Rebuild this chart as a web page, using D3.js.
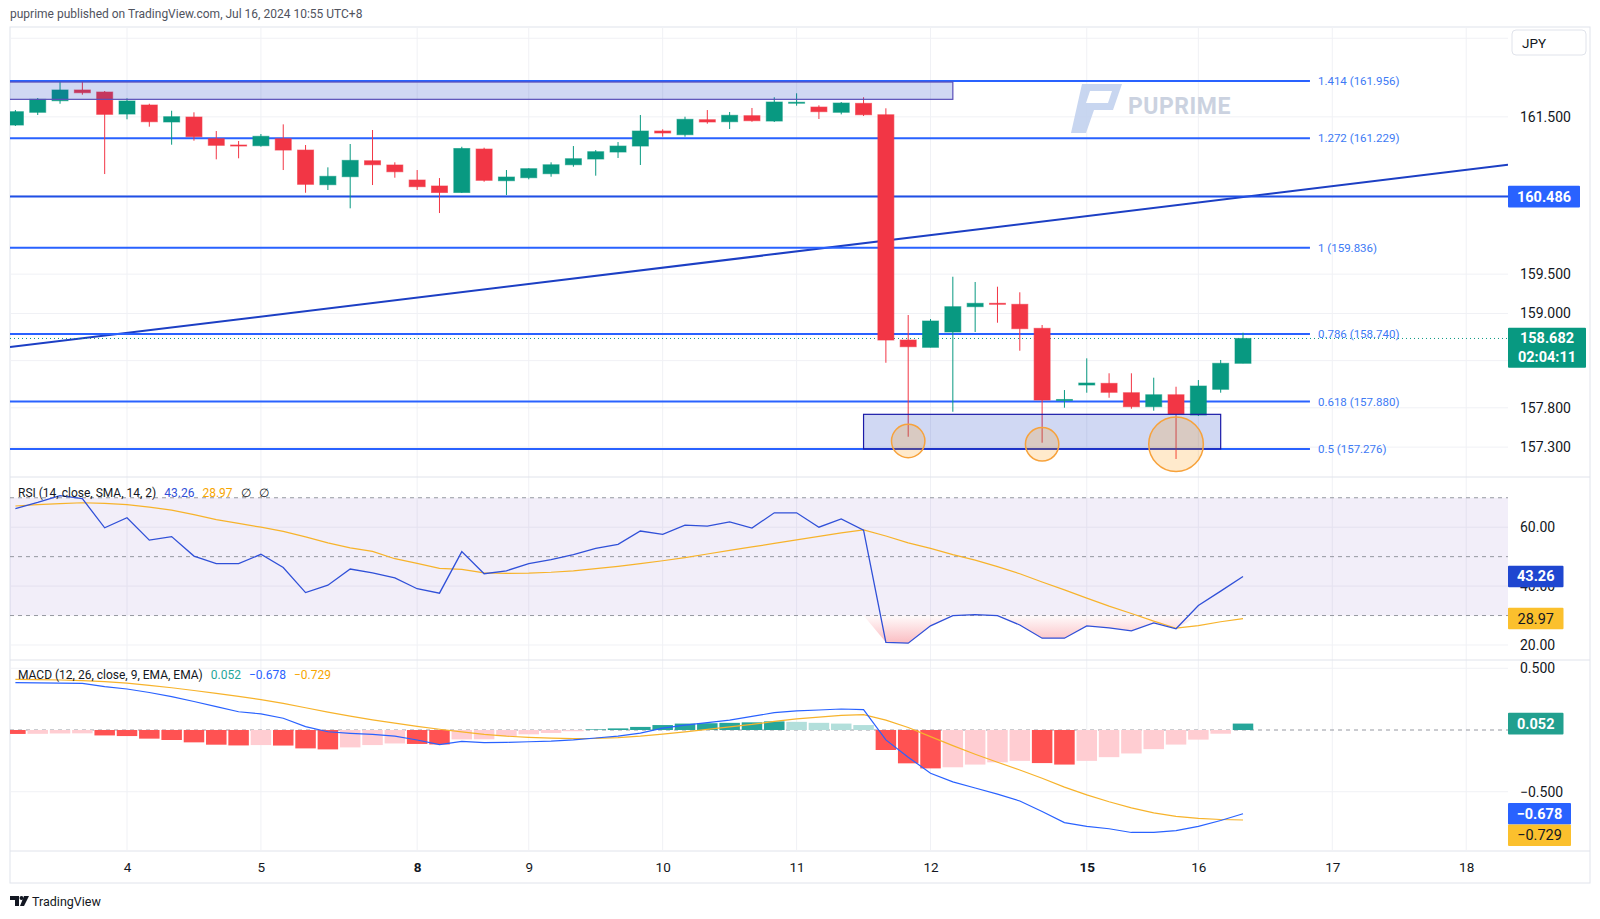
<!DOCTYPE html>
<html><head><meta charset="utf-8">
<script src="https://cdn.jsdelivr.net/npm/d3@7"></script>
<style>body{margin:0;background:#fff;} svg{display:block;font-family:Roboto,"Noto Sans",sans-serif;}</style>
</head><body><svg id="c" width="1600" height="919"></svg>
<script>
// ---------- DATA ----------
const opens = [161.396,161.558,161.705,161.842,161.816,161.536,161.651,161.435,161.498,161.222,161.142,161.133,161.222,161.078,160.637,160.739,160.942,160.888,160.697,160.621,160.538,161.091,160.688,160.726,160.777,160.891,160.964,161.053,161.129,161.320,161.273,161.464,161.438,161.515,161.447,161.683,161.625,161.558,161.672,161.527,158.662,158.569,158.764,159.086,159.129,159.116,158.811,157.893,158.090,158.111,157.992,157.814,157.966,157.708,158.035,158.366];
const highs = [161.587,161.740,161.947,161.947,161.829,161.736,161.667,161.578,161.558,161.320,161.193,161.282,161.405,161.142,160.858,161.155,161.333,160.922,160.824,160.722,161.120,161.108,160.824,160.846,160.922,161.129,161.078,161.180,161.524,161.342,161.502,161.587,161.562,161.613,161.749,161.800,161.647,161.689,161.749,161.609,158.980,158.929,159.467,159.400,159.340,159.269,158.853,158.026,158.429,158.239,158.239,158.183,158.068,158.153,158.408,158.755];
const lows = [161.384,161.524,161.667,161.782,160.773,161.469,161.375,161.146,161.197,160.960,160.973,161.121,160.824,160.535,160.570,160.337,160.633,160.726,160.570,160.277,160.532,160.675,160.506,160.706,160.739,160.866,160.752,160.977,160.888,161.248,161.248,161.413,161.346,161.438,161.435,161.642,161.473,161.532,161.511,158.373,157.432,158.569,157.750,158.764,158.882,158.526,157.356,157.801,157.992,157.928,157.788,157.763,157.149,157.696,157.992,158.366];
const closes = [161.566,161.723,161.842,161.807,161.532,161.702,161.438,161.502,161.248,161.138,161.135,161.253,161.078,160.642,160.744,160.947,160.891,160.802,160.612,160.538,161.098,160.693,160.735,160.841,160.891,160.968,161.057,161.129,161.320,161.295,161.469,161.435,161.520,161.451,161.689,161.686,161.566,161.676,161.527,158.662,158.577,158.904,159.086,159.129,159.120,158.806,157.899,157.906,158.115,157.997,157.814,157.966,157.721,158.077,158.366,158.682];

const rsi = [66.3,68.4,70.7,69.7,59.8,63.2,55.6,56.8,50.2,47.6,47.6,50.8,46.3,37.8,40.3,45.8,44.5,42.8,39.1,37.6,51.7,44.2,45.2,47.6,49.0,50.7,52.8,54.2,58.7,57.6,60.7,60.4,61.8,59.7,64.9,64.9,60.0,62.8,59.0,20.9,20.6,26.5,30.0,30.3,30.0,26.8,22.3,22.3,26.5,25.8,24.8,27.5,25.5,33.4,38.3,43.26];
const rsiMA = [67.2,67.7,68.0,68.3,68.1,67.7,66.8,65.8,64.3,62.6,61.3,60.0,58.6,56.7,54.7,53.0,51.8,49.3,47.7,46.0,45.7,44.5,44.3,44.4,44.7,45.2,45.9,46.7,47.6,48.6,49.7,50.9,52.1,53.3,54.5,55.7,56.9,58.1,59.1,57.0,54.7,52.8,50.7,48.8,46.6,44.2,41.4,38.7,35.9,33.2,30.7,28.1,25.7,26.6,27.9,28.97];

const macd = [0.383,0.382,0.380,0.378,0.351,0.332,0.304,0.270,0.231,0.189,0.148,0.130,0.095,0.027,-0.014,-0.027,-0.036,-0.049,-0.081,-0.119,-0.092,-0.103,-0.100,-0.095,-0.090,-0.080,-0.065,-0.050,-0.025,0.015,0.040,0.060,0.080,0.110,0.140,0.155,0.162,0.170,0.165,-0.080,-0.220,-0.350,-0.420,-0.470,-0.520,-0.575,-0.660,-0.750,-0.780,-0.800,-0.830,-0.830,-0.815,-0.780,-0.733,-0.678];
const signal = [0.410,0.408,0.405,0.400,0.392,0.380,0.362,0.342,0.320,0.297,0.272,0.246,0.216,0.180,0.145,0.112,0.082,0.055,0.030,0.006,-0.015,-0.035,-0.050,-0.060,-0.066,-0.070,-0.068,-0.062,-0.050,-0.033,-0.015,0.005,0.025,0.045,0.070,0.090,0.105,0.118,0.125,0.080,0.020,-0.054,-0.127,-0.196,-0.261,-0.324,-0.391,-0.463,-0.526,-0.581,-0.631,-0.671,-0.700,-0.716,-0.725,-0.729];
const hist = [-0.032,-0.031,-0.028,-0.027,-0.044,-0.049,-0.070,-0.081,-0.100,-0.119,-0.125,-0.122,-0.126,-0.149,-0.157,-0.141,-0.122,-0.109,-0.113,-0.117,-0.076,-0.075,-0.050,-0.035,-0.024,-0.010,0.005,0.013,0.025,0.040,0.052,0.055,0.058,0.062,0.070,0.066,0.058,0.052,0.040,-0.162,-0.270,-0.311,-0.302,-0.280,-0.262,-0.250,-0.268,-0.280,-0.250,-0.220,-0.190,-0.155,-0.118,-0.078,-0.030,0.052];

const dayLabels = ["4","5","8","9","10","11","12","15","16","17","18"];
const dayIndex = [5,11,18,23,29,35,41,48,53,59,65];
const boldDays = ["8","15"];
const priceGrid = [162.5,161.5,160.5,159.5,159.0,158.4,157.8,157.3];
const priceTicks = [161.5,159.5,159.0,157.8,157.3];
const rsiTicks = [60,40,20];
const rsiLevels = [70,50,30];
const macdGrid = [0.5,-0.5];
const macdTicks = [0.5,-0.5];
const fibLevels = [1.414,1.272,1,0.786,0.618,0.5];
const fibPrices = [161.956,161.229,159.836,158.740,157.880,157.276];
const hLinePrice = 160.486;
const trendIdx = [0,55];
const trendPrice = [158.58,160.48];
const zoneTop = {i0:-1, i1:42, p0:161.723, p1:161.943};
const zoneBottom = {i0:38, i1:54, p0:157.276, p1:157.717};
const circleIdx = [40,46,52];
const circlePrice = [157.378,157.336,157.336];
const lastPrice = 158.682, countdown = "02:04:11";
const rsiLast = 43.26, rsiMALast = 28.97;
const histLast = 0.052, macdLast = -0.678, signalLast = -0.729;

// ---------- LAYOUT ----------
const svg = d3.select("#c");
const L = 10, R = 1508, AX = 1590;
const mainTop = 27, mainBot = 477, rsiTop = 477, rsiBot = 660, macdTop = 660, macdBot = 850, frameBot = 883;
const GREEN = "#089981", RED = "#f23645";

const x = d3.scaleLinear().domain([0,55]).range([15.4, 15.4 + 55*22.32]);
const yP = d3.scaleLinear().domain([156.92,162.643]).range([mainBot, mainTop]);
const yR = d3.scaleLinear().domain([14.9,77.05]).range([rsiBot, rsiTop]);
const yM = d3.scaleLinear().domain([-0.972,0.567]).range([macdBot, macdTop]);

const defs = svg.append("defs");
function clip(id, y0, y1){ defs.append("clipPath").attr("id",id).append("rect").attr("x",L).attr("y",y0).attr("width",R-L).attr("height",y1-y0); }
clip("cm", mainTop, mainBot); clip("cr", rsiTop, rsiBot); clip("cmd", macdTop, macdBot);

// header
svg.append("text").attr("x",10).attr("y",18).attr("font-size",12).attr("fill","#50535e")
  .text("puprime published on TradingView.com, Jul 16, 2024 10:55 UTC+8");

// frame
svg.append("rect").attr("x",L).attr("y",mainTop).attr("width",AX-L).attr("height",frameBot-mainTop)
  .attr("fill","#fff").attr("stroke","#e0e3eb");

// vertical grid
svg.append("g").selectAll("line").data(dayIndex).join("line")
  .attr("x1",d=>x(d)).attr("x2",d=>x(d)).attr("y1",mainTop).attr("y2",macdBot)
  .attr("stroke","#f0f1f5");
// horizontal grids
svg.append("g").attr("clip-path","url(#cm)").selectAll("line").data(priceGrid).join("line")
  .attr("x1",L).attr("x2",R).attr("y1",d=>yP(d)).attr("y2",d=>yP(d)).attr("stroke","#f0f1f5");
svg.append("g").selectAll("line").data(rsiTicks).join("line")
  .attr("x1",L).attr("x2",R).attr("y1",d=>yR(d)).attr("y2",d=>yR(d)).attr("stroke","#f0f1f5");
svg.append("g").selectAll("line").data(macdGrid).join("line")
  .attr("x1",L).attr("x2",R).attr("y1",d=>yM(d)).attr("y2",d=>yM(d)).attr("stroke","#f0f1f5");

// pane separators
[rsiTop, macdTop, macdBot+1].forEach(y=>svg.append("line").attr("x1",L).attr("x2",AX).attr("y1",y).attr("y2",y).attr("stroke","#e0e3eb"));

// watermark
const wm = svg.append("g").attr("opacity",0.9);
wm.append("path").attr("d","M1082,84 L1122,84 L1113,110 L1094,110 L1086,133 L1071,133 Z").attr("fill","#c3d2ef");
wm.append("path").attr("d","M1090,91 L1112,91 L1108,103 L1086,103 Z").attr("fill","#fff");
wm.append("text").attr("x",1128).attr("y",114).attr("font-size",23).attr("font-weight",700)
  .attr("fill","#c6cedd").attr("letter-spacing","0.5").text("PUPRIME");

// ---------- MAIN PANE ----------
const gm = svg.append("g").attr("clip-path","url(#cm)");
const idx = d3.range(opens.length);

// trendline (extended to the pane edges)
const slope = (trendPrice[1]-trendPrice[0])/(trendIdx[1]-trendIdx[0]);
const tiL = x.invert(L), tiR = x.invert(R);
gm.append("line")
  .attr("x1",x(tiL)).attr("y1",yP(trendPrice[0]+slope*(tiL-trendIdx[0])))
  .attr("x2",x(tiR)).attr("y2",yP(trendPrice[0]+slope*(tiR-trendIdx[0])))
  .attr("stroke","#1c3fc4").attr("stroke-width",2);

// horizontal line
gm.append("line").attr("x1",L).attr("x2",R).attr("y1",yP(hLinePrice)).attr("y2",yP(hLinePrice))
  .attr("stroke","#1f4fe6").attr("stroke-width",2);

// fib lines
const fibEnd = x(58);
gm.selectAll(".fib").data(fibPrices).join("line").attr("class","fib")
  .attr("x1",L).attr("x2",fibEnd).attr("y1",d=>yP(d)).attr("y2",d=>yP(d))
  .attr("stroke","#2962ff").attr("stroke-width",2);
gm.selectAll(".fibt").data(fibPrices).join("text").attr("class","fibt")
  .attr("x",fibEnd+8).attr("y",d=>yP(d)+4).attr("font-size",11.5).attr("fill","#3d7af5")
  .text((d,i)=>`${fibLevels[i]} (${d.toFixed(3)})`);

// current price dotted line
gm.append("line").attr("x1",L).attr("x2",R).attr("y1",yP(lastPrice)).attr("y2",yP(lastPrice))
  .attr("stroke",GREEN).attr("stroke-dasharray","1,3").attr("stroke-width",1);

// candles
const bw = 16;
const cg = gm.append("g");
idx.forEach(i=>{
  const up = closes[i] >= opens[i];
  const col = up ? GREEN : RED;
  cg.append("line").attr("x1",x(i)).attr("x2",x(i)).attr("y1",yP(highs[i])).attr("y2",yP(lows[i]))
    .attr("stroke",col).attr("stroke-width",1);
  const top = yP(Math.max(opens[i],closes[i])), bot = yP(Math.min(opens[i],closes[i]));
  cg.append("rect").attr("x",x(i)-bw/2).attr("y",top).attr("width",bw).attr("height",Math.max(1,bot-top))
    .attr("fill",col).attr("stroke",col).attr("stroke-width",1).attr("stroke-opacity",0.6);
});

// zones
function zone(z, stroke){
  gm.append("rect").attr("x",x(z.i0)).attr("y",yP(z.p1)).attr("width",x(z.i1)-x(z.i0)).attr("height",yP(z.p0)-yP(z.p1))
    .attr("fill","rgba(22,62,195,0.2)").attr("stroke",stroke).attr("stroke-width",1.2);
}
zone(zoneTop, "#5a4fb8");
zone(zoneBottom, "#1a1aa8");

// circles
const radii = [16.7,16.7,27.3];
gm.selectAll(".circ").data(circleIdx).join("circle").attr("class","circ")
  .attr("cx",d=>x(d)).attr("cy",(d,i)=>yP(circlePrice[i])).attr("r",(d,i)=>radii[i])
  .attr("fill","rgba(255,152,0,0.2)").attr("stroke","#f7a23b").attr("stroke-width",1.5);

// ---------- RSI PANE ----------
const gr = svg.append("g").attr("clip-path","url(#cr)");
gr.append("rect").attr("x",L).attr("width",R-L).attr("y",yR(rsiLevels[0])).attr("height",yR(rsiLevels[2])-yR(rsiLevels[0]))
  .attr("fill","rgba(126,87,194,0.1)");
gr.selectAll(".lvl").data(rsiLevels).join("line").attr("class","lvl")
  .attr("x1",L).attr("x2",R).attr("y1",d=>yR(d)).attr("y2",d=>yR(d))
  .attr("stroke","#9598a1").attr("stroke-dasharray","4,4");
const grad = defs.append("linearGradient").attr("id","os").attr("gradientUnits","userSpaceOnUse")
  .attr("x1",0).attr("x2",0).attr("y1",yR(30)).attr("y2",yR(20));
grad.append("stop").attr("offset",0).attr("stop-color","#f23645").attr("stop-opacity",0.02);
grad.append("stop").attr("offset",1).attr("stop-color","#f23645").attr("stop-opacity",0.35);
gr.append("path").datum(idx).attr("fill","url(#os)")
  .attr("d",d3.area().x(i=>x(i)).y0(yR(30)).y1(i=>yR(Math.min(rsi[i],30))));
gr.append("path").datum(idx).attr("fill","none").attr("stroke","#f7b32b").attr("stroke-width",1.2)
  .attr("d",d3.line().x(i=>x(i)).y(i=>yR(rsiMA[i])));
gr.append("path").datum(idx).attr("fill","none").attr("stroke","#3050d8").attr("stroke-width",1.3)
  .attr("d",d3.line().x(i=>x(i)).y(i=>yR(rsi[i])));

// RSI legend
const rl = svg.append("text").attr("x",18).attr("y",497).attr("font-size",12);
rl.append("tspan").attr("fill","#131722").text("RSI (14, close, SMA, 14, 2)");
rl.append("tspan").attr("dx",8).attr("fill","#3050d8").text(rsiLast.toFixed(2));
rl.append("tspan").attr("dx",8).attr("fill","#f7a600").text(rsiMALast.toFixed(2));
rl.append("tspan").attr("dx",8).attr("fill","#131722").text("∅");
rl.append("tspan").attr("dx",8).attr("fill","#131722").text("∅");

// ---------- MACD PANE ----------
const gd = svg.append("g").attr("clip-path","url(#cmd)");
gd.append("line").attr("x1",L).attr("x2",R).attr("y1",yM(0)).attr("y2",yM(0))
  .attr("stroke","#9598a1").attr("stroke-dasharray","4,4");
const hw = 20.5;
gd.selectAll(".hb").data(idx).join("rect").attr("class","hb")
  .attr("x",i=>x(i)-hw/2).attr("width",hw)
  .attr("y",i=>Math.min(yM(0),yM(hist[i]))).attr("height",i=>Math.abs(yM(hist[i])-yM(0)))
  .attr("fill",i=>{
    const v = hist[i], p = i>0 ? hist[i-1] : v;
    if (v >= 0) return (i===0 || v > p) ? "#26a69a" : "#b2dfdb";
    return (i===0 || v <= p) ? "#ff5252" : "#ffcdd2";
  });
gd.append("path").datum(idx).attr("fill","none").attr("stroke","#f7b32b").attr("stroke-width",1.2)
  .attr("d",d3.line().x(i=>x(i)).y(i=>yM(signal[i])));
gd.append("path").datum(idx).attr("fill","none").attr("stroke","#2962ff").attr("stroke-width",1.2)
  .attr("d",d3.line().x(i=>x(i)).y(i=>yM(macd[i])));

const ml = svg.append("text").attr("x",18).attr("y",679).attr("font-size",12);
ml.append("tspan").attr("fill","#131722").text("MACD (12, 26, close, 9, EMA, EMA)");
ml.append("tspan").attr("dx",8).attr("fill","#26a69a").text(d3.format(".3f")(histLast));
ml.append("tspan").attr("dx",8).attr("fill","#2962ff").text(d3.format(".3f")(macdLast));
ml.append("tspan").attr("dx",8).attr("fill","#f7a600").text(d3.format(".3f")(signalLast));

// ---------- AXES ----------
function styleAxis(g){ g.select(".domain").remove(); g.selectAll("text").attr("fill","#131722").attr("font-size",14).attr("font-family","Roboto,'Noto Sans',sans-serif"); }
svg.append("g").attr("transform",`translate(${R},0)`)
  .call(d3.axisRight(yP).tickValues(priceTicks).tickFormat(d3.format(".3f")).tickSize(0).tickPadding(12)).call(styleAxis);
const ra = svg.append("g").attr("transform",`translate(${R},0)`)
  .call(d3.axisRight(yR).tickValues(rsiTicks).tickFormat(d3.format(".2f")).tickSize(0).tickPadding(12)).call(styleAxis);
svg.append("g").attr("transform",`translate(${R},0)`)
  .call(d3.axisRight(yM).tickValues(macdTicks).tickFormat(d3.format(".3f")).tickSize(0).tickPadding(12)).call(styleAxis);
const xa = svg.append("g").attr("transform",`translate(0,${macdBot+10})`)
  .call(d3.axisBottom(x).tickValues(dayIndex).tickFormat((d,i)=>dayLabels[i]).tickSize(0).tickPadding(2)).call(styleAxis);
xa.selectAll("text").attr("font-size",13.5).attr("font-weight",(d,i)=>boldDays.includes(dayLabels[i])?700:400);

// value boxes
function box(yc, lines, fill, tcol, w, bold){
  const h = 21.6 * lines.length - (lines.length>1?3:0);
  const g = svg.append("g");
  g.append("rect").attr("x",R).attr("y",yc-10.8).attr("width",w).attr("height",h).attr("fill",fill).attr("rx",1);
  lines.forEach((t,k)=>g.append("text").attr("x",R+w/2).attr("y",yc+5+k*19).attr("text-anchor","middle")
    .attr("font-size",14.5).attr("font-weight",bold?700:400).attr("fill",tcol).text(t));
  return yc-10.8+h;
}
box(yP(hLinePrice), [hLinePrice.toFixed(3)], "#2962ff", "#fff", 72, true);
box(yP(lastPrice), [lastPrice.toFixed(3), countdown], GREEN, "#fff", 78, true);
box(yR(rsiLast), [rsiLast.toFixed(2)], "#1f46d0", "#fff", 55.5, true);
box(yR(rsiMALast), [rsiMALast.toFixed(2)], "#fbc02d", "#131722", 55.5, false);
box(yM(histLast), [d3.format(".3f")(histLast)], "#22a08f", "#fff", 55.5, true);
const b2 = box(yM(macdLast), [d3.format(".3f")(macdLast)], "#2962ff", "#fff", 63, true);
box(Math.max(yM(signalLast), b2+10.8), [d3.format(".3f")(signalLast)], "#fbc02d", "#131722", 63, false);

// JPY box
svg.append("rect").attr("x",1512).attr("y",30).attr("width",74).attr("height",25).attr("rx",4)
  .attr("fill","#fff").attr("stroke","#e0e3eb");
svg.append("text").attr("x",1522).attr("y",47.5).attr("font-size",13.5).attr("fill","#131722").text("JPY");

// footer
const ft = svg.append("g");
ft.append("path").attr("d","M10,896 h9 v10 h-4 v-6 h-5 z").attr("fill","#131722");
ft.append("circle").attr("cx",21.5).attr("cy",898).attr("r",2).attr("fill","#131722");
ft.append("path").attr("d","M24,896 h5 l-5,10 h-4 z").attr("fill","#131722");
ft.append("text").attr("x",32).attr("y",906).attr("font-size",12.5).attr("fill","#131722").text("TradingView");
</script></body></html>
